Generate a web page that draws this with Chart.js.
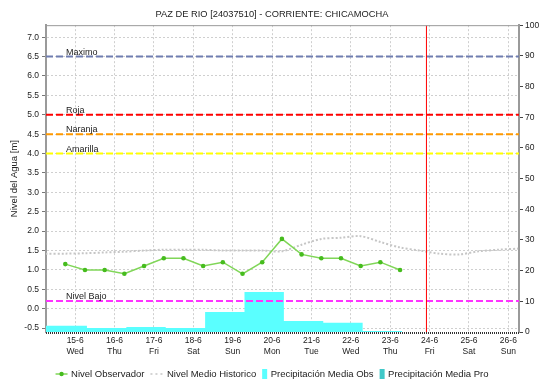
<!DOCTYPE html>
<html>
<head>
<meta charset="utf-8">
<script src="https://cdn.jsdelivr.net/npm/chart.js@4.4.1/dist/chart.umd.min.js"></script>
<style>
  html, body { margin: 0; padding: 0; background: #fff; }
  #wrap { width: 544px; height: 383px; }
</style>
</head>
<body>
<div id="wrap"><canvas id="nivelChart" width="544" height="383"></canvas></div>
<script>
// Eje X: un tick por dia (valor 0 = 15-6)
const dayLabels = ["15-6", "16-6", "17-6", "18-6", "19-6", "20-6", "21-6", "22-6", "23-6", "24-6", "25-6", "26-6"];
const weekDays = ["Wed", "Thu", "Fri", "Sat", "Sun", "Mon", "Tue", "Wed", "Thu", "Fri", "Sat", "Sun"];
const xMin = -0.74;
const xMax = 11.27;

// Nivel observado (m), dos lecturas por dia
const obsDays = [-0.25, 0.25, 0.75, 1.25, 1.75, 2.25, 2.75, 3.25, 3.75, 4.25, 4.75, 5.25, 5.75, 6.25, 6.75, 7.25, 7.75, 8.25];
const obsLevels = [1.15, 1.0, 1.0, 0.9, 1.1, 1.3, 1.3, 1.1, 1.2, 0.9, 1.2, 1.8, 1.4, 1.3, 1.3, 1.1, 1.2, 1.0];

// Nivel medio historico (m)
const histDays = [-0.75, -0.25, 0.25, 0.75, 1.25, 1.75, 2.25, 2.75, 3.25, 3.75, 4.25, 4.75, 5.25, 5.75, 6.25, 6.75, 7.25, 7.75, 8.25, 8.75, 9.25, 9.75, 10.25, 10.75, 11.25];
const histLevels = [1.42, 1.42, 1.43, 1.45, 1.47, 1.5, 1.52, 1.52, 1.52, 1.5, 1.5, 1.5, 1.48, 1.65, 1.8, 1.83, 1.87, 1.72, 1.58, 1.5, 1.42, 1.4, 1.48, 1.52, 1.55];

// Precipitacion media diaria (eje derecho), cada valor rige desde su dia de inicio
const rainStartDays = [-0.75, 0.3, 1.3, 2.3, 3.3, 4.3, 5.3, 6.3, 7.3];
const rainEndDay = 8.3;
const rainObs = [2.0, 1.3, 1.6, 1.3, 6.5, 13.0, 3.6, 3.0, 0.3];
const rainPro = [];

// Umbrales de alerta (m)
const thresholdNames = ["Maximo", "Roja", "Naranja", "Amarilla", "Nivel Bajo"];
const thresholdLevels = [6.5, 5.0, 4.5, 4.0, 0.2];
const thresholdColors = ["#6f7db0", "#ff0000", "#ff9900", "#ffff00", "#ff33ff"];

// Marca de hoy
const nowDay = 8.92;

const levelTicks = [-0.5, 0, 0.5, 1, 1.5, 2, 2.5, 3, 3.5, 4, 4.5, 5, 5.5, 6, 6.5, 7];

const FONT = '"Liberation Sans", Arial, sans-serif';

const obsPoints = obsDays.map((d, i) => ({ x: d, y: obsLevels[i] }));
const histPoints = histDays.map((d, i) => ({ x: d, y: histLevels[i] }));
const rainPoints = rainStartDays.map((d, i) => ({ x: d, y: rainObs[i] }));
rainPoints.push({ x: rainEndDay, y: rainObs[rainObs.length - 1] });

const datasets = [
  {
    label: "Nivel Observador",
    data: obsPoints,
    yAxisID: "y",
    borderColor: "rgb(128,214,88)",
    borderWidth: 1.5,
    pointRadius: 2.3,
    pointBorderWidth: 0,
    pointBackgroundColor: "rgb(70,188,30)",
    order: 1,
    legendKind: "point",
  },
  {
    label: "Nivel Medio Historico",
    data: histPoints,
    yAxisID: "y",
    borderColor: "#c6c6c6",
    borderWidth: 2,
    borderDash: [2, 2],
    pointRadius: 0,
    tension: 0.3,
    order: 6,
    legendKind: "dots",
  },
  {
    label: "Precipitación Media Obs",
    data: rainPoints,
    yAxisID: "y1",
    stepped: "before",
    fill: "origin",
    backgroundColor: "rgb(90,255,255)",
    borderColor: "rgb(90,255,255)",
    borderWidth: 0,
    pointRadius: 0,
    order: 20,
    legendKind: "box",
  },
  {
    label: "Precipitación Media Pro",
    data: rainPro,
    yAxisID: "y1",
    stepped: "before",
    fill: "origin",
    backgroundColor: "rgb(64,200,200)",
    borderColor: "rgb(64,200,200)",
    borderWidth: 0,
    pointRadius: 0,
    order: 19,
    legendKind: "box",
  },
];

// lineas de umbral horizontales
thresholdLevels.forEach((lvl, i) => {
  datasets.push({
    label: thresholdNames[i],
    data: [{ x: xMin, y: lvl }, { x: xMax, y: lvl }],
    yAxisID: "y",
    borderColor: thresholdColors[i],
    borderWidth: 2,
    borderDash: [7, 3],
    pointRadius: 0,
    order: 4,
  });
});

// linea vertical de hoy
datasets.push({
  label: "hoy",
  data: [{ x: nowDay, y: 0 }, { x: nowDay, y: 100 }],
  yAxisID: "y1",
  borderColor: "#ff0000",
  borderWidth: 1,
  pointRadius: 0,
  order: 3,
});

const decorPlugin = {
  id: "decor",
  afterDatasetsDraw(chart) {
    const { ctx, chartArea, scales } = chart;
    ctx.save();
    ctx.font = "9px " + FONT;
    ctx.fillStyle = "#222";
    ctx.textBaseline = "alphabetic";
    ctx.textAlign = "left";
    thresholdNames.forEach((name, i) => {
      const y = scales.y.getPixelForValue(thresholdLevels[i]);
      ctx.fillText(name, chartArea.left + 20, y - 2);
    });
    ctx.restore();
  },
  afterDraw(chart) {
    const { ctx, chartArea } = chart;
    ctx.save();
    // borde superior
    ctx.strokeStyle = "#9a9a9a";
    ctx.lineWidth = 1;
    ctx.beginPath();
    ctx.moveTo(chartArea.left, chartArea.top + 0.5);
    ctx.lineTo(chartArea.right, chartArea.top + 0.5);
    ctx.stroke();
    // eje inferior punteado
    ctx.strokeStyle = "#333";
    ctx.lineWidth = 2;
    ctx.setLineDash([1, 1]);
    ctx.beginPath();
    ctx.moveTo(chartArea.left, chartArea.bottom + 1);
    ctx.lineTo(chartArea.right, chartArea.bottom + 1);
    ctx.stroke();
    ctx.setLineDash([]);

    // leyenda
    const items = chart.data.datasets.filter((ds) => ds.legendKind);
    ctx.font = "9.5px " + FONT;
    const markW = { point: 12, dots: 13, box: 5 };
    const gapText = 3.5;
    const gapItem = 6;
    let total = 0;
    items.forEach((ds, i) => {
      total += markW[ds.legendKind] + gapText + ctx.measureText(ds.label).width;
      if (i < items.length - 1) total += gapItem;
    });
    let x = (chart.width - total) / 2;
    const cy = 374;
    ctx.textBaseline = "middle";
    ctx.textAlign = "left";
    items.forEach((ds) => {
      const w = markW[ds.legendKind];
      if (ds.legendKind === "point") {
        ctx.strokeStyle = ds.borderColor;
        ctx.lineWidth = 1.5;
        ctx.beginPath();
        ctx.moveTo(x, cy);
        ctx.lineTo(x + w, cy);
        ctx.stroke();
        ctx.fillStyle = ds.pointBackgroundColor;
        ctx.beginPath();
        ctx.arc(x + w / 2, cy, 2.2, 0, Math.PI * 2);
        ctx.fill();
      } else if (ds.legendKind === "dots") {
        ctx.strokeStyle = ds.borderColor;
        ctx.lineWidth = 1.5;
        ctx.setLineDash([2, 3]);
        ctx.beginPath();
        ctx.moveTo(x, cy);
        ctx.lineTo(x + w, cy);
        ctx.stroke();
        ctx.setLineDash([]);
      } else {
        ctx.fillStyle = ds.backgroundColor;
        ctx.fillRect(x, cy - 5, w, 10);
      }
      x += w + gapText;
      ctx.fillStyle = "#222";
      ctx.fillText(ds.label, x, cy + 0.5);
      x += ctx.measureText(ds.label).width + gapItem;
    });
    ctx.restore();
  },
};

new Chart(document.getElementById("nivelChart"), {
  type: "line",
  data: { datasets: datasets },
  plugins: [decorPlugin],
  options: {
    responsive: false,
    animation: false,
    devicePixelRatio: 1,
    layout: { padding: 0 },
    plugins: {
      legend: { display: false },
      tooltip: { enabled: false },
      title: {
        display: true,
        text: "PAZ DE RIO [24037510] - CORRIENTE: CHICAMOCHA",
        color: "#222",
        font: { family: FONT, size: 9.3, weight: "normal" },
        padding: { top: 9, bottom: 5 },
      },
    },
    scales: {
      x: {
        type: "linear",
        min: xMin,
        max: xMax,
        afterBuildTicks: (scale) => {
          scale.ticks = dayLabels.map((_, i) => ({ value: i }));
        },
        afterFit: (scale) => {
          scale.height = 51;
        },
        ticks: {
          autoSkip: false,
          maxRotation: 0,
          padding: 3,
          color: "#222",
          font: { family: FONT, size: 8.5, lineHeight: 1.3 },
          callback: (v) => {
            const i = Math.round(v);
            return [dayLabels[i], weekDays[i]];
          },
        },
        grid: { color: "#cfcfcf", lineWidth: 1, drawTicks: false },
        border: { display: false, dash: [2, 2] },
      },
      y: {
        position: "left",
        min: -0.6,
        max: 7.31,
        afterBuildTicks: (scale) => {
          scale.ticks = levelTicks.map((v) => ({ value: v }));
        },
        afterFit: (scale) => {
          scale.width = 46;
        },
        title: {
          display: true,
          text: "Nivel del Agua [m]",
          color: "#222",
          font: { family: FONT, size: 9.5 },
          padding: { top: 9, bottom: 0 },
        },
        ticks: {
          padding: 3,
          color: "#222",
          font: { family: FONT, size: 8.5 },
          callback: (v) => Number(v).toFixed(1),
        },
        grid: {
          color: "#cfcfcf",
          lineWidth: 1,
          tickLength: 4,
          tickColor: "#777",
          tickBorderDash: [],
        },
        border: { color: "#9a9a9a", width: 2, dash: [2, 2] },
      },
      y1: {
        position: "right",
        min: 0,
        max: 100,
        afterFit: (scale) => {
          scale.width = 25;
        },
        ticks: {
          stepSize: 10,
          padding: 2,
          color: "#222",
          font: { family: FONT, size: 8.5 },
        },
        grid: {
          drawOnChartArea: false,
          tickLength: 4,
          tickColor: "#444",
        },
        border: { color: "#9a9a9a", width: 2 },
      },
    },
  },
});
</script>
</body>
</html>
